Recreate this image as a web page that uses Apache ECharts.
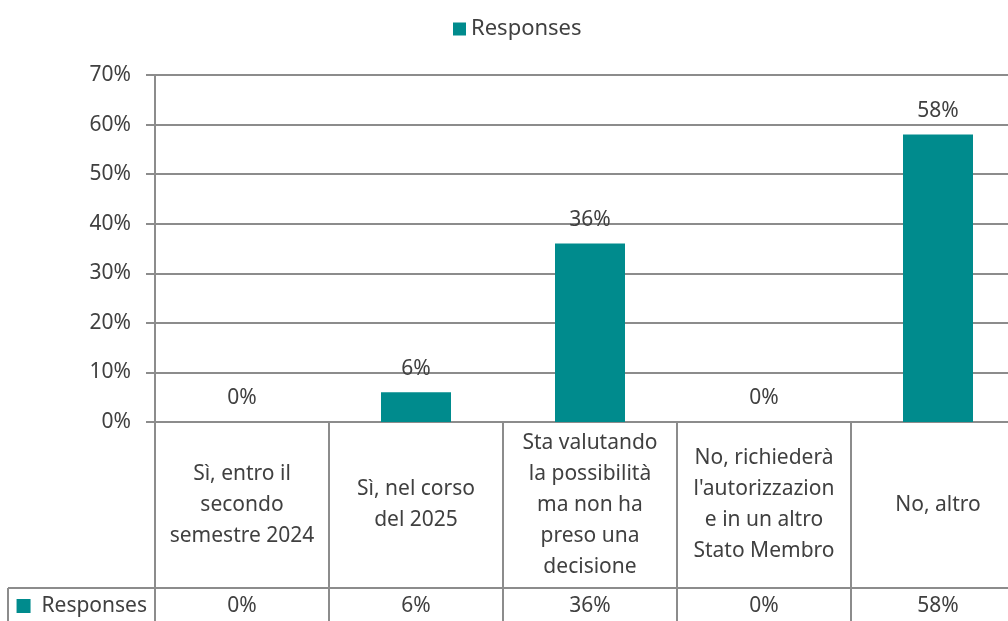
<!DOCTYPE html>
<html>
<head>
<meta charset="utf-8">
<script src="https://cdn.jsdelivr.net/npm/echarts@6/dist/echarts.min.js"></script>
<style>
  html, body { margin: 0; padding: 0; background: #fff; }
  #chart { width: 1008px; height: 621px; }
</style>
</head>
<body>
<div id="chart"></div>
<script>
// categorie (già spezzate come nel grafico originale)
const categories = [
  'Sì, entro il\nsecondo\nsemestre 2024',
  'Sì, nel corso\ndel 2025',
  'Sta valutando\nla possibilità\nma non ha\npreso una\ndecisione',
  'No, richiederà\nl\'autorizzazion\ne in un altro\nStato Membro',
  'No, altro'
]
const responses = [0, 6, 36, 0, 58]
const seriesName = 'Responses'
const yMin = 0
const yMax = 70
const yStep = 10

const teal = '#008b8d'
const lineGray = '#8c8c8c'
const textColor = '#404040'
const font = 'Noto Sans'

const chart = echarts.init(document.getElementById('chart'))

const option = {
  animation: false,
  textStyle: { fontFamily: font },
  legend: {
    top: 13,
    left: 448,
    itemWidth: 13,
    itemHeight: 13,
    itemGap: 4,
    icon: 'rect',
    textStyle: { color: textColor, fontSize: 22, fontFamily: font },
    data: [seriesName]
  },
  grid: {
    left: 155,
    top: 75,
    width: 870,
    height: 347,
    outerBoundsMode: 'none' // il grafico esce a destra come nell'originale
  },
  yAxis: {
    type: 'value',
    min: yMin,
    max: yMax,
    interval: yStep,
    axisLine: { show: true, lineStyle: { color: lineGray, width: 2 } },
    axisTick: { show: true, length: 9, lineStyle: { color: lineGray, width: 2 } },
    axisLabel: {
      margin: 24,
      color: textColor,
      fontSize: 21,
      fontFamily: font,
      formatter: '{value}%'
    },
    splitLine: { lineStyle: { color: lineGray, width: 2 } }
  },
  xAxis: [
    {
      // riga delle categorie
      type: 'category',
      data: categories,
      position: 'bottom',
      axisLine: { show: true, lineStyle: { color: lineGray, width: 2 } },
      axisTick: { show: true, interval: 0, length: 210, lineStyle: { color: lineGray, width: 2 } },
      axisLabel: {
        interval: 0,
        margin: 83,
        verticalAlign: 'middle',
        lineHeight: 31,
        color: textColor,
        fontSize: 21,
        fontFamily: font
      }
    },
    {
      // riga dei valori della tabella dati
      type: 'category',
      data: categories,
      position: 'bottom',
      offset: 166,
      name: '{key|}  ' + seriesName,
      nameLocation: 'start',
      nameGap: 8,
      nameTextStyle: {
        color: textColor,
        fontSize: 21,
        fontFamily: font,
        padding: [36, 0, 0, 0],
        rich: {
          key: { width: 14, height: 14, backgroundColor: teal }
        }
      },
      axisLine: { show: true, lineStyle: { color: lineGray, width: 2 } },
      axisTick: { show: false },
      axisLabel: {
        interval: 0,
        margin: 18,
        verticalAlign: 'middle',
        color: textColor,
        fontSize: 21,
        fontFamily: font,
        formatter: (v, i) => responses[i] + '%'
      }
    }
  ],
  series: [
    {
      name: seriesName,
      type: 'bar',
      xAxisIndex: 0,
      data: responses,
      barWidth: 70,
      itemStyle: { color: teal },
      label: {
        show: true,
        position: 'top',
        distance: 13,
        color: textColor,
        fontSize: 21,
        fontFamily: font,
        formatter: '{c}%'
      }
    }
  ],
  graphic: [
    // bordi della cella "Responses"
    {
      type: 'line',
      shape: { x1: 8, y1: 588, x2: 156, y2: 588 },
      style: { stroke: lineGray, lineWidth: 2 }
    },
    {
      type: 'line',
      shape: { x1: 8, y1: 588, x2: 8, y2: 625 },
      style: { stroke: lineGray, lineWidth: 2 }
    }
  ]
}

chart.setOption(option)
</script>
</body>
</html>
